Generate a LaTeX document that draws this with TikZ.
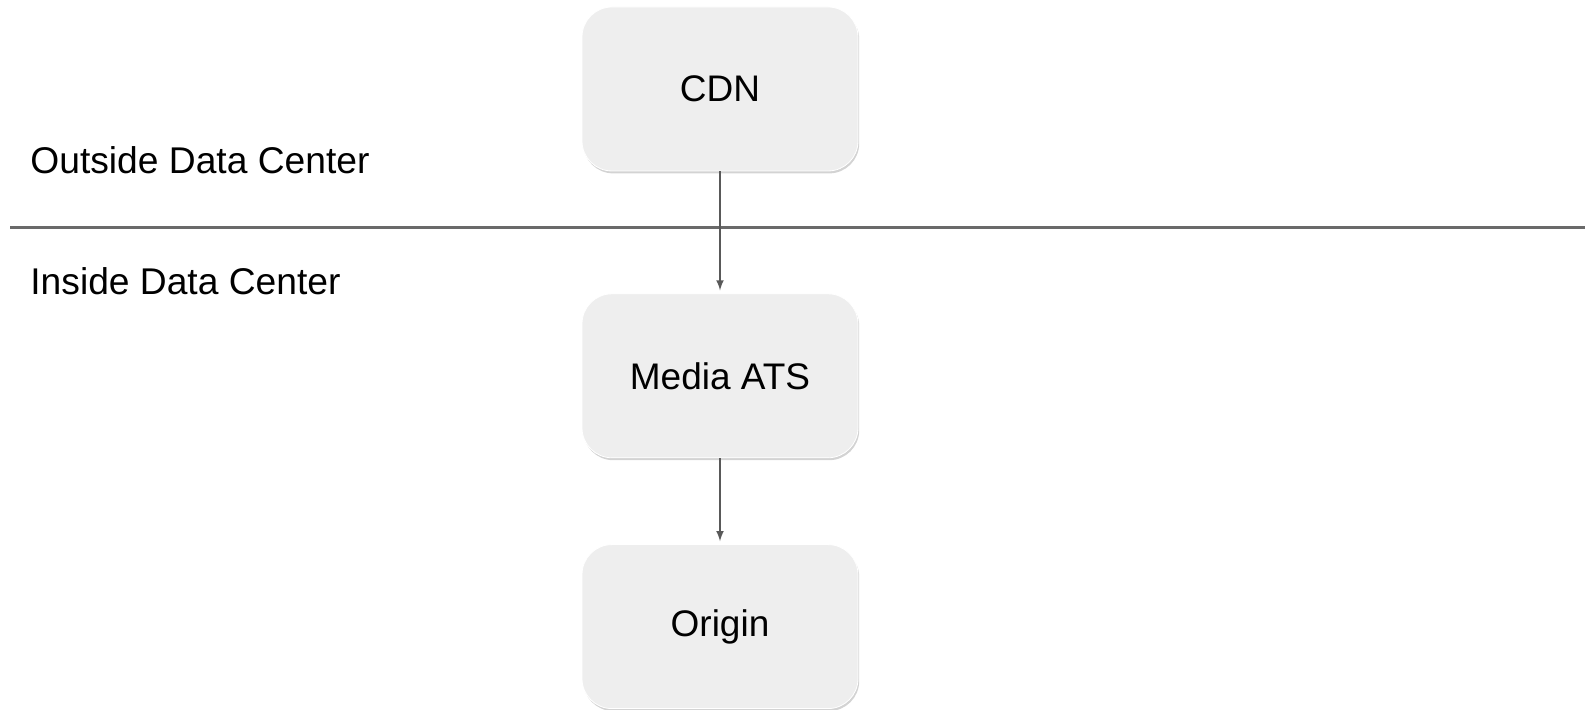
\documentclass[tikz,border=0pt]{standalone}
\usepackage{fontspec}
\setmainfont{Liberation Sans}
\usetikzlibrary{positioning,calc,shapes,arrows,shadows}
\definecolor{mygray}{RGB}{238, 238, 238}
\definecolor{mydark}{RGB}{89, 89, 89}
\tikzstyle{server}=[draw=white,fill=mygray,rounded corners=15pt,minimum width=138pt,minimum height=82pt,thin,font=\fontsize{18.5pt}{22pt}\selectfont,drop shadow={opacity=0.35,shadow xshift=0.6pt,shadow yshift=-1.2pt}]
\tikzstyle{zone}=[anchor=base west,inner sep=0pt,font=\fontsize{18.6pt}{22pt}\selectfont]
\tikzstyle{arr}=[-latex,draw=mydark,line width=0.75pt,shorten >=1.5pt]

\begin{document}
\begin{tikzpicture}[x=0.5pt,y=0.5pt]
      \useasboundingbox (0,0) rectangle (1585,710);
      \node (cdn) [server] at (720,621) {CDN};
      \node (ats) [server,below=61pt of cdn] {Media ATS};
      \node (origin) [server,below=43pt of ats] {Origin};

      \node (outside) [zone] at (30,536) {Outside Data Center};
      \node (inside) [zone] at (30,415) {Inside Data Center};
      \coordinate (wl) at (10,482.5);
      \coordinate (wr) at (1585,482.5);
      \draw[mydark!90,line width=1.1pt] (wl) -- (wr);

      \draw[arr] (cdn.south) -- (ats.north);
      \draw[arr] (ats.south) -- (origin.north);
    \end{tikzpicture}
\end{document}
